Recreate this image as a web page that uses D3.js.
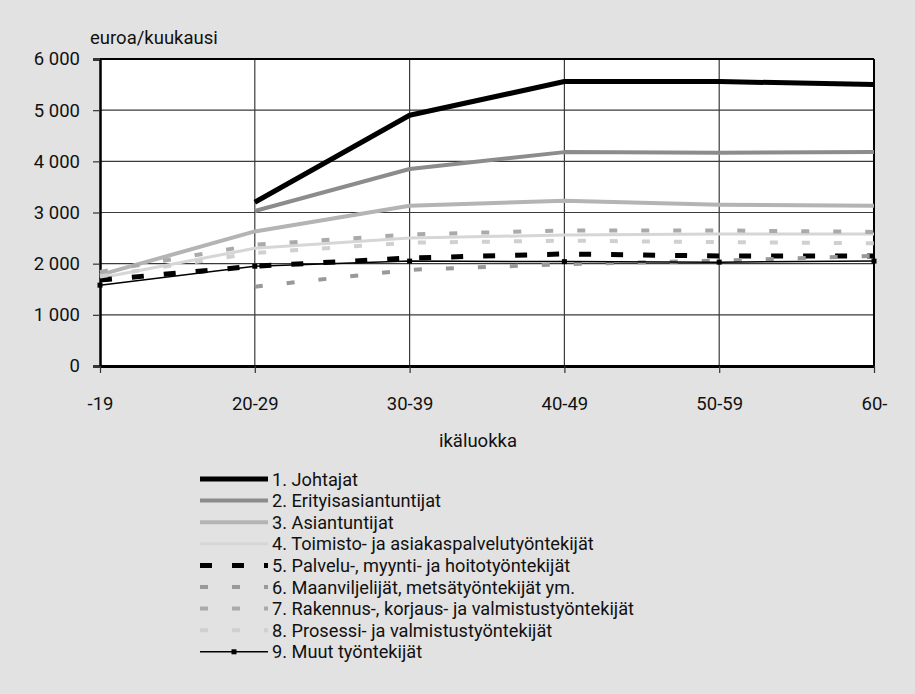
<!DOCTYPE html>
<html>
<head>
<meta charset="utf-8">
<script src="https://cdn.jsdelivr.net/npm/d3@7"></script>
<style>
  html, body { margin: 0; padding: 0; background: #e2e2e2; }
  svg { display: block; }
  text { font-family: Roboto, "Open Sans", sans-serif; fill: #111; }
</style>
</head>
<body>
<svg id="chart" width="915" height="694"></svg>
<script>
/* values, euro per month by age group */
const ageGroups = ["-19", "20-29", "30-39", "40-49", "50-59", "60-"];
const yTicks = [0, 1000, 2000, 3000, 4000, 5000, 6000];

const johtajat      = [null, 3200, 4900, 5560, 5560, 5500];
const erityis       = [null, 3030, 3850, 4180, 4170, 4180];
const asiantuntijat = [1780, 2630, 3130, 3230, 3150, 3130];
const toimisto      = [1720, 2300, 2500, 2560, 2580, 2580];
const palvelu       = [1680, 1950, 2110, 2190, 2150, 2150];
const maanviljelijat= [null, 1550, 1880, 1990, 2060, 2150];
const rakennus      = [1840, 2370, 2570, 2650, 2650, 2620];
const prosessi      = [1750, 2210, 2410, 2450, 2420, 2400];
const muut          = [1580, 1950, 2050, 2040, 2030, 2050];

const seriesNames = [
  "1. Johtajat",
  "2. Erityisasiantuntijat",
  "3. Asiantuntijat",
  "4. Toimisto- ja asiakaspalvelutyöntekijät",
  "5. Palvelu-, myynti- ja hoitotyöntekijät",
  "6. Maanviljelijät, metsätyöntekijät ym.",
  "7. Rakennus-, korjaus- ja valmistustyöntekijät",
  "8. Prosessi- ja valmistustyöntekijät",
  "9. Muut työntekijät"
];
const seriesValues = [johtajat, erityis, asiantuntijat, toimisto, palvelu,
                      maanviljelijat, rakennus, prosessi, muut];

// how each line is drawn
const styles = [
  {stroke: "#000",    width: 5,   dash: null},
  {stroke: "#8c8c8c", width: 4,   dash: null},
  {stroke: "#b4b4b4", width: 4,   dash: null},
  {stroke: "#d6d6d6", width: 3,   dash: null},
  {stroke: "#000",    width: 5,   dash: "12,20"},
  {stroke: "#999",    width: 4,   dash: "8,24"},
  {stroke: "#aaa",    width: 4,   dash: "8,24"},
  {stroke: "#d0d0d0", width: 4,   dash: "8,24"},
  {stroke: "#000",    width: 1.5, dash: null, marker: true}
];

let svg = d3.select("#chart");
let pLeft = 100, pRight = 874, pTop = 59, pBottom = 366;
let fs = 18.5;

let x = d3.scalePoint().domain(ageGroups).range([pLeft, pRight]).padding(0);
let y = d3.scaleLinear().domain([0, 6000]).range([pBottom, pTop]);

let fmt = d3.formatLocale({decimal: ",", thousands: " ", grouping: [3], currency: ["", ""]}).format(",d");

svg.append("rect")
   .attr("x", pLeft).attr("y", pTop)
   .attr("width", pRight - pLeft).attr("height", pBottom - pTop)
   .attr("fill", "#fff");

// grid
svg.append("g").selectAll("line")
   .data(yTicks.slice(1, -1))
   .join("line")
   .attr("x1", pLeft).attr("x2", pRight)
   .attr("y1", d => y(d)).attr("y2", d => y(d))
   .attr("stroke", "#3a3a3a").attr("stroke-width", 1.2);

svg.append("g").selectAll("line")
   .data(ageGroups.slice(1, -1))
   .join("line")
   .attr("x1", d => x(d)).attr("x2", d => x(d))
   .attr("y1", pTop).attr("y2", pBottom)
   .attr("stroke", "#3a3a3a").attr("stroke-width", 1.2);

// frame top and right
svg.append("line").attr("x1", pLeft).attr("x2", pRight).attr("y1", pTop).attr("y2", pTop)
   .attr("stroke", "#000").attr("stroke-width", 2);
svg.append("line").attr("x1", pRight).attr("x2", pRight).attr("y1", pTop).attr("y2", pBottom)
   .attr("stroke", "#000").attr("stroke-width", 2);

let yAxis = svg.append("g")
   .attr("transform", `translate(${pLeft},0)`)
   .call(d3.axisLeft(y).tickValues(yTicks).tickSize(7).tickPadding(13).tickFormat(fmt));
yAxis.select(".domain").attr("stroke", "#000").attr("stroke-width", 2.5);
yAxis.selectAll(".tick line").attr("stroke", "#333").attr("stroke-width", 1.2);
yAxis.selectAll("text").attr("font-size", fs).style("font-family", "Roboto, sans-serif").attr("fill", "#111");

let xAxis = svg.append("g")
   .attr("transform", `translate(0,${pBottom})`)
   .call(d3.axisBottom(x).tickSizeInner(7).tickSizeOuter(0).tickPadding(24));
xAxis.select(".domain").attr("stroke", "#000").attr("stroke-width", 3);
xAxis.selectAll(".tick line").attr("stroke", "#333").attr("stroke-width", 1.2);
xAxis.selectAll("text").attr("font-size", fs).style("font-family", "Roboto, sans-serif").attr("fill", "#111");

svg.append("text").attr("x", 90).attr("y", 44).attr("font-size", fs).text("euroa/kuukausi");
svg.append("text").attr("x", 478).attr("y", 447)
   .attr("text-anchor", "middle").attr("font-size", fs).text("ikäluokka");

// lines
let line = d3.line()
   .defined(d => d.v != null)
   .x(d => x(d.k))
   .y(d => y(d.v));

let plot = svg.append("g");
seriesValues.forEach((vals, i) => {
  let s = styles[i];
  let pts = vals.map((v, j) => ({k: ageGroups[j], v: v}));
  plot.append("path")
     .attr("fill", "none")
     .attr("stroke", s.stroke)
     .attr("stroke-width", s.width)
     .attr("stroke-dasharray", s.dash)
     .attr("stroke-linejoin", "round")
     .attr("d", line(pts));
  if (s.marker) {
    plot.selectAll(null).data(pts.filter(d => d.v != null))
       .join("rect")
       .attr("x", d => x(d.k) - 2.5).attr("y", d => y(d.v) - 2.5)
       .attr("width", 5).attr("height", 5).attr("fill", "#000");
  }
});

// legend
let lg = svg.append("g").attr("transform", "translate(200,479)");
seriesNames.forEach((name, i) => {
  let s = styles[i];
  let row = lg.append("g").attr("transform", `translate(0,${i * 21.6})`);
  row.append("line")
     .attr("x1", 0).attr("x2", 68).attr("y1", 0).attr("y2", 0)
     .attr("stroke", s.stroke).attr("stroke-width", s.width)
     .attr("stroke-dasharray", s.dash);
  if (s.marker) {
    row.append("rect").attr("x", 31.5).attr("y", -2.5).attr("width", 5).attr("height", 5).attr("fill", "#000");
  }
  row.append("text").attr("x", 72).attr("y", 6.5).attr("font-size", 18.2).text(name);
});
</script>
</body>
</html>
